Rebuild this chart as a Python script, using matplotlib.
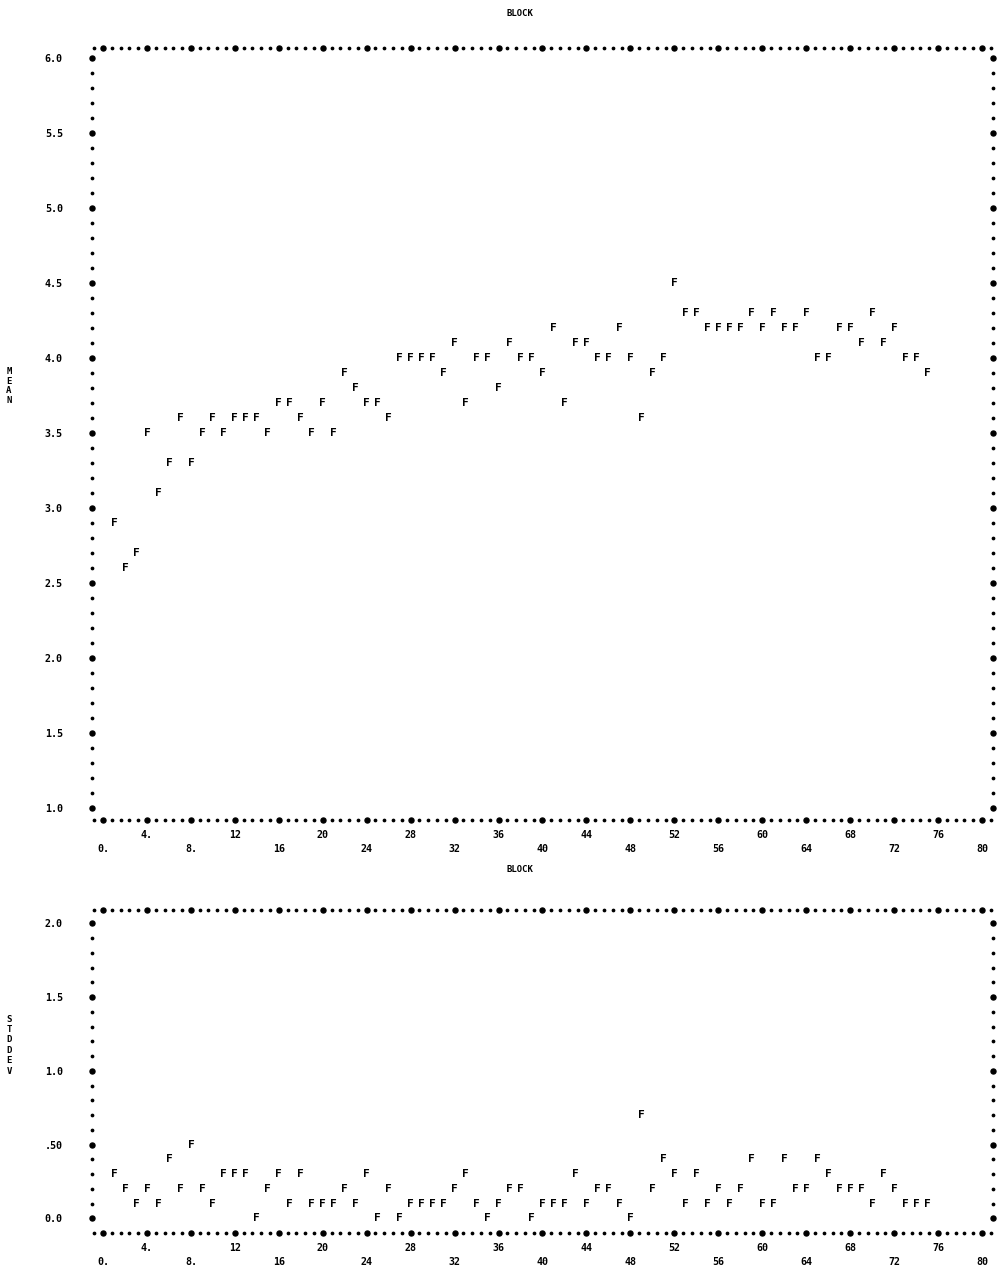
import numpy as np
import matplotlib
matplotlib.use("Agg")
import matplotlib.pyplot as plt
from matplotlib.ticker import FixedLocator

# ---------------- data ----------------
blocks = list(range(1, 76))
mean = [2.9, 2.6, 2.7, 3.5, 3.1, 3.3, 3.6, 3.3, 3.5, 3.6,
        3.5, 3.6, 3.6, 3.6, 3.5, 3.7, 3.7, 3.6, 3.5, 3.7,
        3.5, 3.9, 3.8, 3.7, 3.7, 3.6, 4.0, 4.0, 4.0, 4.0,
        3.9, 4.1, 3.7, 4.0, 4.0, 3.8, 4.1, 4.0, 4.0, 3.9,
        4.2, 3.7, 4.1, 4.1, 4.0, 4.0, 4.2, 4.0, 3.6, 3.9,
        4.0, 4.5, 4.3, 4.3, 4.2, 4.2, 4.2, 4.2, 4.3, 4.2,
        4.3, 4.2, 4.2, 4.3, 4.0, 4.0, 4.2, 4.2, 4.1, 4.3,
        4.1, 4.2, 4.0, 4.0, 3.9]
stddev = [0.3, 0.2, 0.1, 0.2, 0.1, 0.4, 0.2, 0.5, 0.2, 0.1,
          0.3, 0.3, 0.3, 0.0, 0.2, 0.3, 0.1, 0.3, 0.1, 0.1,
          0.1, 0.2, 0.1, 0.3, 0.0, 0.2, 0.0, 0.1, 0.1, 0.1,
          0.1, 0.2, 0.3, 0.1, 0.0, 0.1, 0.2, 0.2, 0.0, 0.1,
          0.1, 0.1, 0.3, 0.1, 0.2, 0.2, 0.1, 0.0, 0.7, 0.2,
          0.4, 0.3, 0.1, 0.3, 0.1, 0.2, 0.1, 0.2, 0.4, 0.1,
          0.1, 0.4, 0.2, 0.2, 0.4, 0.3, 0.2, 0.2, 0.2, 0.1,
          0.3, 0.2, 0.1, 0.1, 0.1]

x_ticks = list(range(0, 81, 4))
x_ticklabels = ["0.", "4.", "8.", "12", "16", "20", "24", "28", "32", "36", "40",
                "44", "48", "52", "56", "60", "64", "68", "72", "76", "80"]
mean_ticks = [1.0, 1.5, 2.0, 2.5, 3.0, 3.5, 4.0, 4.5, 5.0, 5.5, 6.0]
mean_ticklabels = ["1.0", "1.5", "2.0", "2.5", "3.0", "3.5", "4.0", "4.5", "5.0", "5.5", "6.0"]
sd_ticks = [0.0, 0.5, 1.0, 1.5, 2.0]
sd_ticklabels = ["0.0", ".50", "1.0", "1.5", "2.0"]

MONO = "DejaVu Sans Mono"
W, H = 998, 1270

fig = plt.figure(figsize=(W / 100, H / 100), dpi=100)
fig.patch.set_facecolor("white")


def make_axes(top_px, bot_px, ylim):
    ax = fig.add_axes([92 / W, 1 - bot_px / H, (993 - 92) / W, (bot_px - top_px) / H])
    ax.set_xlim(-1, 81)
    ax.set_ylim(*ylim)
    for s in ax.spines.values():
        s.set_visible(False)
    return ax


def decorate(ax, yticks, yticklabels, ydot_lo, ydot_hi):
    # dotted border (line-printer style)
    xs = np.arange(-0.8, 81.0, 0.8)
    for yy in (0, 1):
        ax.plot(xs, np.full(len(xs), yy), transform=ax.get_xaxis_transform(),
                ls="none", marker="o", ms=1.7, color="black", clip_on=False)
        ax.plot(x_ticks, np.full(len(x_ticks), yy), transform=ax.get_xaxis_transform(),
                ls="none", marker="o", ms=3.6, color="black", clip_on=False)
    ys = np.arange(ydot_lo, ydot_hi + 1e-6, 0.1)
    for xx in (0, 1):
        ax.plot(np.full(len(ys), xx), ys, transform=ax.get_yaxis_transform(),
                ls="none", marker="o", ms=1.7, color="black", clip_on=False)
        ax.plot(np.full(len(yticks), xx), yticks, transform=ax.get_yaxis_transform(),
                ls="none", marker="o", ms=3.6, color="black", clip_on=False)

    # staggered x tick labels: upper row 4,12,...; lower row 0,8,...
    lower = x_ticks[0::2]
    upper = x_ticks[1::2]
    ax.xaxis.set_major_locator(FixedLocator(lower))
    ax.xaxis.set_minor_locator(FixedLocator(upper))
    ax.set_xticklabels(x_ticklabels[0::2])
    ax.set_xticklabels(x_ticklabels[1::2], minor=True)
    ax.tick_params(axis="x", which="major", length=0, pad=17.5)
    ax.tick_params(axis="x", which="minor", length=0, pad=7)
    ax.set_yticks(yticks)
    ax.set_yticklabels(yticklabels)
    ax.tick_params(axis="y", which="both", length=0, pad=21)
    for lab in ax.get_xticklabels(which="both") + ax.get_yticklabels():
        lab.set_fontfamily(MONO)
        lab.set_fontweight("bold")
        lab.set_fontsize(7.2)


# ---------- top panel: MEAN ----------
ax1 = make_axes(47.5, 820, (0.92, 6.07))
decorate(ax1, mean_ticks, mean_ticklabels, 1.0, 6.0)
for b, m in zip(blocks, mean):
    ax1.text(b, m, "F", ha="center", va="center", fontsize=8,
             fontweight="bold", family=MONO, color="black")

# ---------- bottom panel: STDDEV ----------
ax2 = make_axes(910, 1233, (-0.1, 2.09))
decorate(ax2, sd_ticks, sd_ticklabels, 0.0, 2.0)
for b, s in zip(blocks, stddev):
    ax2.text(b, s, "F", ha="center", va="center", fontsize=8,
             fontweight="bold", family=MONO, color="black")

# titles
fig.text(520 / W, 1 - 14 / H, "BLOCK", ha="center", va="center",
         fontsize=6.5, fontweight="bold", family=MONO)
fig.text(520 / W, 1 - 870 / H, "BLOCK", ha="center", va="center",
         fontsize=6.5, fontweight="bold", family=MONO)

# stacked y-axis titles
fig.text(9 / W, 1 - 386 / H, "M\nE\nA\nN", ha="center", va="center",
         fontsize=6.5, fontweight="bold", family=MONO, linespacing=1.05)
fig.text(9 / W, 1 - 1045 / H, "S\nT\nD\nD\nE\nV", ha="center", va="center",
         fontsize=6.5, fontweight="bold", family=MONO, linespacing=1.2)

fig.savefig("out.png", dpi=100, facecolor="white")
